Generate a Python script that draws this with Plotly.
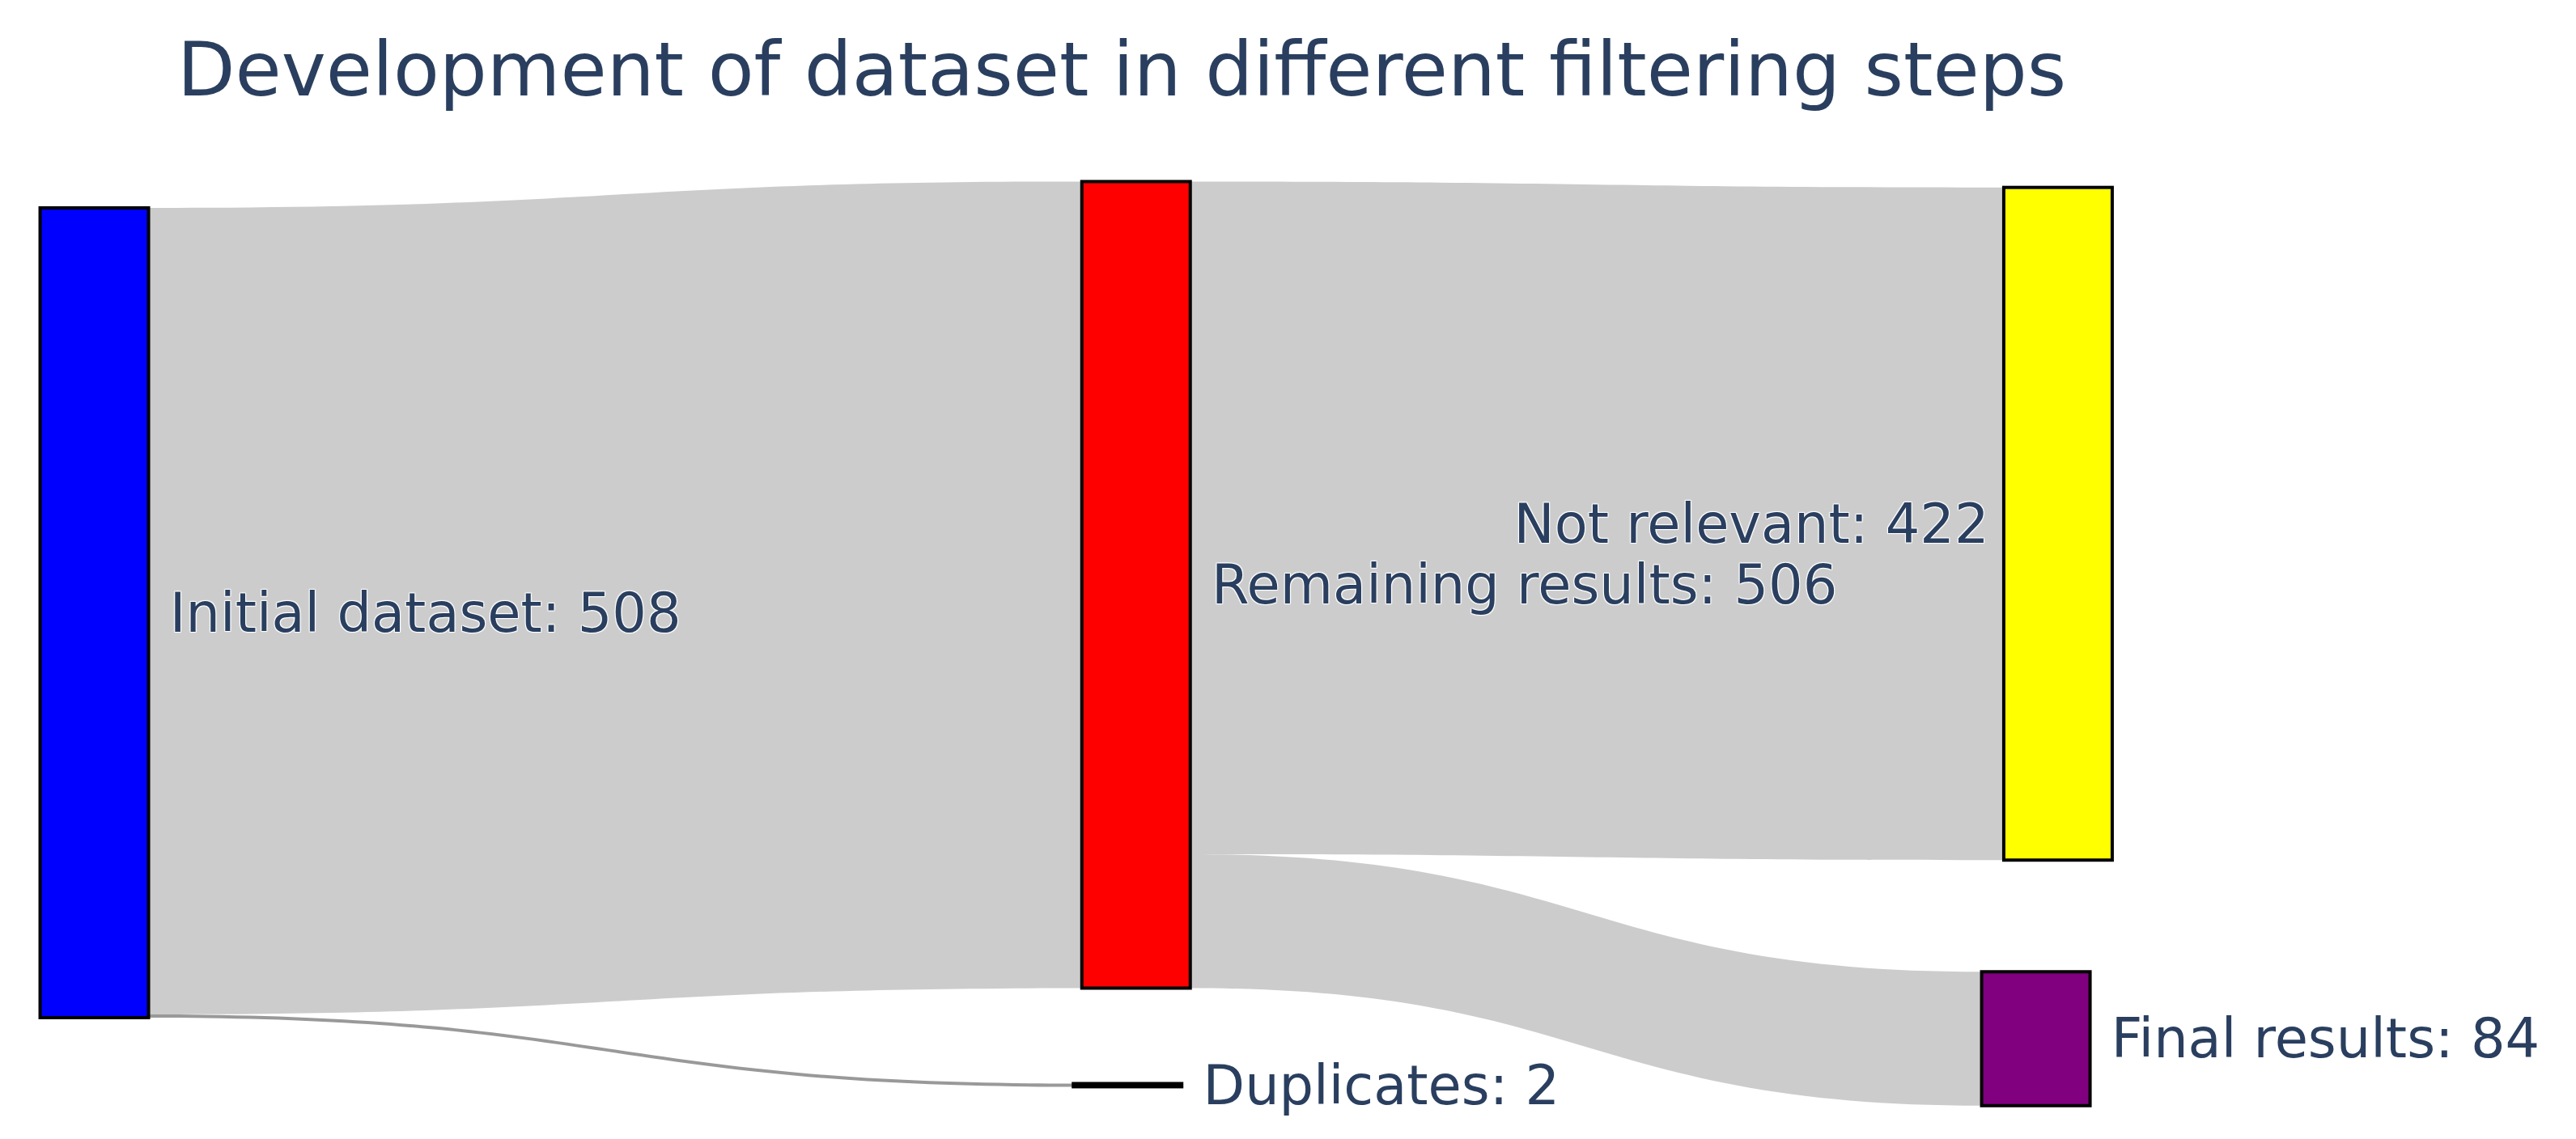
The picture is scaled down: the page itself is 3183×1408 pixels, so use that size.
import plotly.graph_objects as go

# nodes
names = ["Initial dataset", "Remaining results", "Duplicates", "Not relevant", "Final results"]
counts = [508, 506, 2, 422, 84]
node_colors = ["blue", "red", "darkgreen", "yellow", "purple"]
# node positions (fractions of the plot area, as placed in the original)
node_x = [0.0341, 0.4385, 0.4352, 0.7964, 0.7878]
node_y = [0.4745, 0.4447, 0.9788, 0.3795, 0.9292]

# links
sources = [0, 0, 1, 1]
targets = [1, 2, 3, 4]
values = [506, 2, 422, 84]

nb = "\u00a0"
labels = [f"{nb}{n}: {c}" for n, c in zip(names, counts)]
labels[3] = f"{names[3]}: {counts[3]}\u2009"
link_colors = ["rgba(0,0,0,0.2)", "rgba(0,0,0,0.4)", "rgba(0,0,0,0.2)", "rgba(0,0,0,0.2)"]

fig = go.Figure(go.Sankey(
    arrangement="freeform",
    node=dict(
        label=labels,
        color=node_colors,
        x=node_x,
        y=node_y,
        pad=78.5,
        thickness=134,
        line=dict(color=["#333", "#333", "#122212", "#333", "#333"], width=4),
    ),
    link=dict(
        source=sources,
        target=targets,
        value=values,
        color=link_colors,
    ),
    textfont=dict(family="Verdana, DejaVu Sans", size=67, color="#2a3f5f"),
))

fig.update_layout(
    title=dict(
        text="Development of dataset in different filtering steps",
        x=211 / 3183, xanchor="left", xref="container",
        y=1 - 110 / 1408, yanchor="bottom", yref="container",
        font=dict(family="Verdana, DejaVu Sans", size=93, color="#2a3f5f"),
    ),
    width=3183,
    height=1408,
    margin=dict(l=0, r=0, t=200, b=50),
    paper_bgcolor="white",
    font=dict(family="Verdana, DejaVu Sans"),
)

fig.write_html("out.html")
